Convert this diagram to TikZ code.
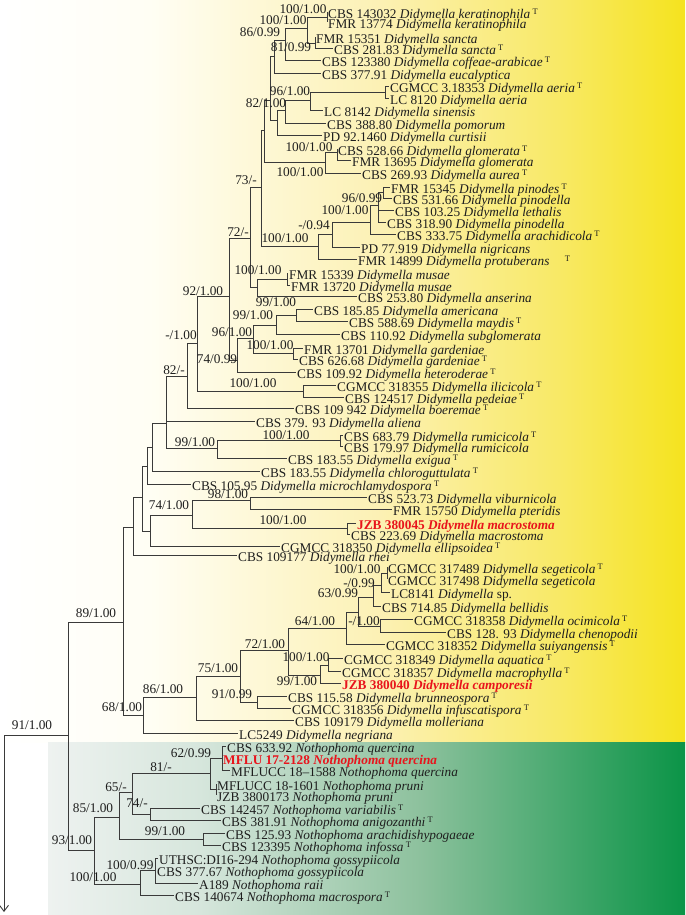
\documentclass[tikz,border=0pt]{standalone}
\usepackage{fontspec}
\setmainfont{Liberation Serif}
\usetikzlibrary{arrows.meta}
\definecolor{rd}{HTML}{E8141C}
\definecolor{ln}{HTML}{3A3A3A}
\definecolor{tx}{HTML}{1E1E1E}
\definecolor{ya}{HTML}{FFFFFF}
\definecolor{yb}{HTML}{FFFEF4}
\definecolor{yc}{HTML}{FCF1B4}
\definecolor{yd}{HTML}{F8E965}
\definecolor{ye}{HTML}{F5E31E}
\definecolor{ga}{HTML}{EEF2F0}
\definecolor{gb}{HTML}{D6E6DC}
\definecolor{gc}{HTML}{8DC19D}
\definecolor{gd}{HTML}{0B9447}
\newcommand{\tp}{\,\raisebox{4.5pt}{\upshape\fontsize{8.5}{9}\selectfont T}}
\newcommand{\lfx}[6][lf]{\node[#1] (#2) at (#4,#5) {#6};\draw[br] (#3) |- ([yshift=3pt]#2.west);}
\newcommand{\spx}[4]{\node[sup] (#1) at (#2,#3) {#4};}
\tikzset{
 br/.style={draw=ln, line width=0.9pt},
 lf/.style={anchor=west, yshift=-3pt, inner sep=1pt, text=tx, font=\fontsize{13.3}{14}\selectfont},
 rl/.style={lf, text=rd, font=\fontsize{13.3}{14}\selectfont\bfseries},
 sup/.style={inner sep=0pt, text=tx, font=\fontsize{13.3}{14}\selectfont},
}
\begin{document}
\begin{tikzpicture}[x=1pt,y=-1pt]
\useasboundingbox (0,0) rectangle (685,915);
% backgrounds
\shade[left color=ya, right color=yb] (0,0) rectangle (150.5,742);
\shade[left color=yb, right color=yc] (150,0) rectangle (380.5,742);
\shade[left color=yc, right color=yd] (380,0) rectangle (560.5,742);
\shade[left color=yd, right color=ye] (560,0) rectangle (685,742);
\shade[left color=ga, right color=gb] (48,742) rectangle (200.5,915);
\shade[left color=gb, right color=gc] (200,742) rectangle (420.5,915);
\shade[left color=gc, right color=gd] (420,742) rectangle (685,915);
% internal nodes
\coordinate (root) at (4,735);
\coordinate (rootend) at (4,912);
\coordinate (N91) at (68,735);
\coordinate (N89) at (123,622);
\coordinate (N93) at (94,850);
\coordinate (NA) at (133,527);
\coordinate (NB) at (142,497);
\coordinate (Nc) at (147,466);
\coordinate (Ne) at (152,447);
\coordinate (N166) at (166,423);
\coordinate (N82) at (187,376);
\coordinate (N_1) at (197,343);
\coordinate (N92) at (229,296);
\coordinate (N72) at (250,238);
\coordinate (N73) at (261,187);
\coordinate (R1) at (264,130);
\coordinate (Q) at (270,100);
\coordinate (A5) at (274,56);
\coordinate (A4) at (285,40);
\coordinate (A2) at (307,28);
\coordinate (A1) at (327,17);
\coordinate (A3) at (315,43);
\coordinate (P2) at (277,120);
\coordinate (P1) at (285,110);
\coordinate (N96a) at (310,100);
\coordinate (Naer) at (385,92);
\coordinate (Ngl1) at (325,162);
\coordinate (Ngl2) at (337,152);
\coordinate (N100d) at (318,246);
\coordinate (N094) at (332,234);
\coordinate (N100c) at (370,222);
\coordinate (Nx) at (378,205);
\coordinate (N96p) at (383,192);
\coordinate (Nma) at (257,287);
\coordinate (Nmus) at (287,279);
\coordinate (N74) at (237,360);
\coordinate (N96b) at (253,338);
\coordinate (N99l) at (276,325);
\coordinate (N99u) at (296,315);
\coordinate (Ngard) at (293,353);
\coordinate (Nilic) at (303,391);
\coordinate (N99r) at (217,448);
\coordinate (Nrum) at (340,440);
\coordinate (Nd) at (150,531);
\coordinate (N74b) at (192,515);
\coordinate (N98) at (250,500);
\coordinate (Nmac) at (347,528);
\coordinate (N68) at (143,715);
\coordinate (N86) at (196,697);
\coordinate (N75) at (240,676);
\coordinate (N72l) at (288,650);
\coordinate (N64) at (346,628);
\coordinate (Nq) at (358,612);
\coordinate (N63) at (373,597);
\coordinate (N099) at (381,585);
\coordinate (Nseg) at (387,573);
\coordinate (N100o) at (380,626);
\coordinate (N99c) at (320,675);
\coordinate (Naq) at (328,665);
\coordinate (N91b) at (257,702);
\coordinate (N85) at (119,817);
\coordinate (N65) at (132,792);
\coordinate (N81) at (210,773);
\coordinate (N62) at (222,758);
\coordinate (Npr) at (216,789);
\coordinate (N74n) at (150,814);
\coordinate (N99n) at (203,839);
\coordinate (N100n) at (140,884);
\coordinate (N100g) at (155,870);
% internal edges
\draw[br, -{Straight Barb[length=6pt,width=9pt]}] (root) -- (rootend);
\foreach \p/\c in {root/N91, N91/N89, N91/N93, N89/NA, N89/N68, NA/NB, NB/Nc, NB/Nd,
  Nc/Ne, Ne/N166, N166/N82, N166/N99r, N82/N_1, N_1/N92, N92/N72, N92/N74, N72/N73, N72/Nma,
  N73/R1, N73/N100d, R1/Q, R1/Ngl1, Q/A5, Q/P2, A5/A4, A4/A2, A2/A1, A2/A3, P2/P1, P1/N96a, N96a/Naer,
  Ngl1/Ngl2, N100d/N094, N094/N100c, N100c/Nx, Nx/N96p, Nma/Nmus, N74/N96b, N96b/N99l,
  N96b/Ngard, N99l/N99u, N_1/Nilic, N99r/Nrum, Nd/N74b, N74b/N98, N74b/Nmac,
  N68/N86, N86/N75, N75/N72l, N75/N91b, N72l/N64, N72l/N99c, N64/Nq, Nq/N63, Nq/N100o,
  N63/N099, N099/Nseg, N99c/Naq, N93/N85, N93/N100n, N85/N65, N85/N99n, N65/N81, N65/N74n,
  N81/N62, N81/Npr, N100n/N100g}
  {\draw[br] (\p) |- (\c);}
% leaves
\lfx{l1}{A1}{327}{12}{CBS 143032 \textit{Didymella keratinophila}\tp}
\lfx{l2}{A1}{327}{22}{FMR 13774 \textit{Didymella keratinophila}}
\lfx{l3}{A3}{315}{37}{FMR 15351 \textit{Didymella sancta}}
\lfx{l4}{A3}{333}{48}{CBS 281.83 \textit{Didymella sancta}\tp}
\lfx{l5}{A4}{321}{60}{CBS 123380 \textit{Didymella coffeae-arabicae}\tp}
\lfx{l6}{A5}{321}{73}{CBS 377.91 \textit{Didymella eucalyptica}}
\lfx{l7}{Naer}{389}{86}{CGMCC 3.18353 \textit{Didymella aeria}\tp}
\lfx{l8}{Naer}{389}{98}{LC 8120 \textit{Didymella aeria}}
\lfx{l9}{N96a}{323}{110}{LC 8142 \textit{Didymella sinensis}}
\lfx{l10}{P1}{326}{123}{CBS 388.80 \textit{Didymella pomorum}}
\lfx{l11}{P2}{322}{135}{PD 92.1460 \textit{Didymella curtisii}}
\lfx{l12}{Ngl2}{337}{149}{CBS 528.66 \textit{Didymella glomerata}\tp}
\lfx{l13}{Ngl2}{351}{160}{FMR 13695 \textit{Didymella glomerata}}
\lfx{l14}{Ngl1}{361}{173}{CBS 269.93 \textit{Didymella aurea}\tp}
\lfx{l15}{N96p}{390}{187}{FMR 15345 \textit{Didymella pinodes}\tp}
\lfx{l16}{N96p}{392}{198}{CBS 531.66 \textit{Didymella pinodella}}
\lfx{l17}{Nx}{394}{210}{CBS 103.25 \textit{Didymella lethalis}}
\lfx{l18}{Nx}{386}{222}{CBS 318.90 \textit{Didymella pinodella}}
\lfx{l19}{N100c}{396}{234}{CBS 333.75 \textit{Didymella arachidicola}\tp}
\lfx{l20}{N094}{360}{247}{PD 77.919 \textit{Didymella nigricans}}
\lfx{l21}{N100d}{357}{259}{FMR 14899 \textit{Didymella protuberans}\quad\tp}
\lfx{l22}{Nmus}{288}{273}{FMR 15339 \textit{Didymella musae}}
\lfx{l23}{Nmus}{290}{285}{FMR 13720 \textit{Didymella musae}}
\lfx{l24}{Nma}{357}{296}{CBS 253.80 \textit{Didymella anserina}}
\lfx{l25}{N99u}{313}{309}{CBS 185.85 \textit{Didymella americana}}
\lfx{l26}{N99u}{348}{321}{CBS 588.69 \textit{Didymella maydis}\tp}
\lfx{l27}{N99l}{340}{334}{CBS 110.92 \textit{Didymella subglomerata}}
\lfx{l28}{Ngard}{303}{348}{FMR 13701 \textit{Didymella gardeniae}}
\lfx{l29}{Ngard}{298}{359}{CBS 626.68 \textit{Didymella gardeniae}\tp}
\lfx{l30}{N74}{296}{372}{CBS 109.92 \textit{Didymella heteroderae}\tp}
\lfx{l31}{Nilic}{336}{385}{CGMCC 318355 \textit{Didymella ilicicola}\tp}
\lfx{l32}{Nilic}{344}{397}{CBS 124517 \textit{Didymella pedeiae}\tp}
\lfx{l33}{N82}{294}{408}{CBS 109 942 \textit{Didymella boeremae}\tp}
\lfx{l34}{N166}{255}{421}{CBS 379. 93 \textit{Didymella aliena}}
\lfx{l35}{Nrum}{343}{435}{CBS 683.79 \textit{Didymella rumicicola}\tp}
\lfx{l36}{Nrum}{343}{446}{CBS 179.97 \textit{Didymella rumicicola}}
\lfx{l37}{N99r}{287}{458}{CBS 183.55 \textit{Didymella exigua}\tp}
\lfx{l38}{Ne}{260}{471}{CBS 183.55 \textit{Didymella chloroguttulata}\tp}
\lfx{l39}{Nc}{191}{484}{CBS 105.95 \textit{Didymella microchlamydospora}\tp}
\lfx{l40}{N98}{367}{497}{CBS 523.73 \textit{Didymella viburnicola}}
\lfx{l41}{N98}{392}{509}{FMR 15750 \textit{Didymella pteridis}}
\lfx[rl]{l42}{Nmac}{356}{523}{JZB 380045 \textit{Didymella macrostoma}}
\lfx{l43}{Nmac}{350}{534}{CBS 223.69 \textit{Didymella macrostoma}}
\lfx{l44}{Nd}{280}{546}{CGMCC 318350 \textit{Didymella ellipsoidea}\tp}
\lfx{l45}{NA}{237}{555}{CBS 109177 \textit{Didymella rhei}}
\lfx{l46}{Nseg}{387}{567}{CGMCC 317489 \textit{Didymella segeticola}\tp}
\lfx{l47}{Nseg}{387}{579}{CGMCC 317498 \textit{Didymella segeticola}}
\lfx{l48}{N099}{390}{592}{LC8141 \textit{Didymella} sp.}
\lfx{l49}{N63}{381}{606}{CBS 714.85 \textit{Didymella bellidis}}
\lfx{l50}{N100o}{413}{619}{CGMCC 318358 \textit{Didymella ocimicola}\tp}
\lfx{l51}{N100o}{446}{632}{CBS 128. 93 \textit{Didymella chenopodii}}
\lfx{l52}{N64}{385}{644}{CGMCC 318352 \textit{Didymella suiyangensis}\tp}
\lfx{l53}{Naq}{343}{658}{CGMCC 318349 \textit{Didymella aquatica}\tp}
\lfx{l54}{Naq}{341}{671}{CGMCC 318357 \textit{Didymella macrophylla}\tp}
\lfx[rl]{l55}{N99c}{341}{683}{JZB 380040 \textit{Didymella camporesii}}
\lfx{l56}{N91b}{287}{696}{CBS 115.58 \textit{Didymella brunneospora}\tp}
\lfx{l57}{N91b}{291}{708}{CGMCC 318356 \textit{Didymella infuscatispora}\tp}
\lfx{l58}{N86}{294}{720}{CBS 109179 \textit{Didymella molleriana}}
\lfx{l59}{N68}{238}{733}{LC5249 \textit{Didymella negriana}}
\lfx{l60}{N62}{226}{746}{CBS 633.92 \textit{Nothophoma quercina}}
\lfx[rl]{l61}{N62}{222}{758}{MFLU 17-2128 \textit{Nothophoma quercina}}
\lfx{l62}{N62}{230}{770}{MFLUCC 18–1588 \textit{Nothophoma quercina}}
\lfx{l63}{Npr}{216}{784}{MFLUCC 18-1601 \textit{Nothophoma pruni}}
\lfx{l64}{Npr}{216}{795}{JZB 3800173 \textit{Nothophoma pruni}}
\lfx{l65}{N74n}{200}{808}{CBS 142457 \textit{Nothophoma variabilis}\tp}
\lfx{l66}{N74n}{221}{820}{CBS 381.91 \textit{Nothophoma anigozanthi}\tp}
\lfx{l67}{N99n}{225}{833}{CBS 125.93 \textit{Nothophoma arachidishypogaeae}}
\lfx{l68}{N99n}{221}{845}{CBS 123395 \textit{Nothophoma infossa}\tp}
\lfx{l69}{N100g}{158}{858}{UTHSC:DI16-294 \textit{Nothophoma gossypiicola}}
\lfx{l70}{N100g}{156}{870}{CBS 377.67 \textit{Nothophoma gossypiicola}}
\lfx{l71}{N100g}{198}{883}{A189 \textit{Nothophoma raii}}
\lfx{l72}{N100n}{174}{895}{CBS 140674 \textit{Nothophoma macrospora}\tp}
% support values
\spx{s1}{303}{9}{100/1.00}
\spx{s2}{283}{20}{100/1.00}
\spx{s3}{260}{32}{86/0.99}
\spx{s4}{291}{47}{81/0.99}
\spx{s5}{290}{91}{96/1.00}
\spx{s6}{266}{103}{82/1.00}
\spx{s7}{309}{147}{100/1.00}
\spx{s8}{300}{172}{100/1.00}
\spx{s9}{246}{180}{73/-}
\spx{s10}{362}{198}{96/0.99}
\spx{s11}{345}{210}{100/1.00}
\spx{s12}{314}{225}{-/0.94}
\spx{s13}{238}{232}{72/-}
\spx{s14}{285}{238}{100/1.00}
\spx{s15}{258}{270}{100/1.00}
\spx{s16}{203}{291}{92/1.00}
\spx{s17}{276}{302}{99/1.00}
\spx{s18}{253}{315}{99/1.00}
\spx{s19}{232}{332}{96/1.00}
\spx{s20}{181}{335}{-/1.00}
\spx{s21}{270}{345}{100/1.00}
\spx{s22}{217}{359}{74/0.99}
\spx{s23}{174}{370}{82/-}
\spx{s24}{253}{383}{100/1.00}
\spx{s25}{286}{435}{100/1.00}
\spx{s26}{195}{442}{99/1.00}
\spx{s27}{228}{494}{98/1.00}
\spx{s28}{169}{505}{74/1.00}
\spx{s29}{283}{520}{100/1.00}
\spx{s30}{96}{613}{89/1.00}
\spx{s31}{357}{569}{100/1.00}
\spx{s32}{359}{583}{-/0.99}
\spx{s33}{338}{593}{63/0.99}
\spx{s34}{315}{621}{64/1.00}
\spx{s35}{364}{621}{-/1.00}
\spx{s36}{265}{644}{72/1.00}
\spx{s37}{306}{657}{100/1.00}
\spx{s38}{218}{668}{75/1.00}
\spx{s39}{297}{681}{99/1.00}
\spx{s40}{163}{689}{86/1.00}
\spx{s41}{232}{694}{91/0.99}
\spx{s42}{122}{707}{68/1.00}
\spx{s43}{32}{725}{91/1.00}
\spx{s44}{191}{753}{62/0.99}
\spx{s45}{161}{767}{81/-}
\spx{s46}{116}{787}{65/-}
\spx{s47}{93}{808}{85/1.00}
\spx{s48}{137}{803}{74/-}
\spx{s49}{165}{831}{99/1.00}
\spx{s50}{72}{840}{93/1.00}
\spx{s51}{130}{865}{100/0.99}
\spx{s52}{93}{877}{100/1.00}
\end{tikzpicture}
\end{document}
